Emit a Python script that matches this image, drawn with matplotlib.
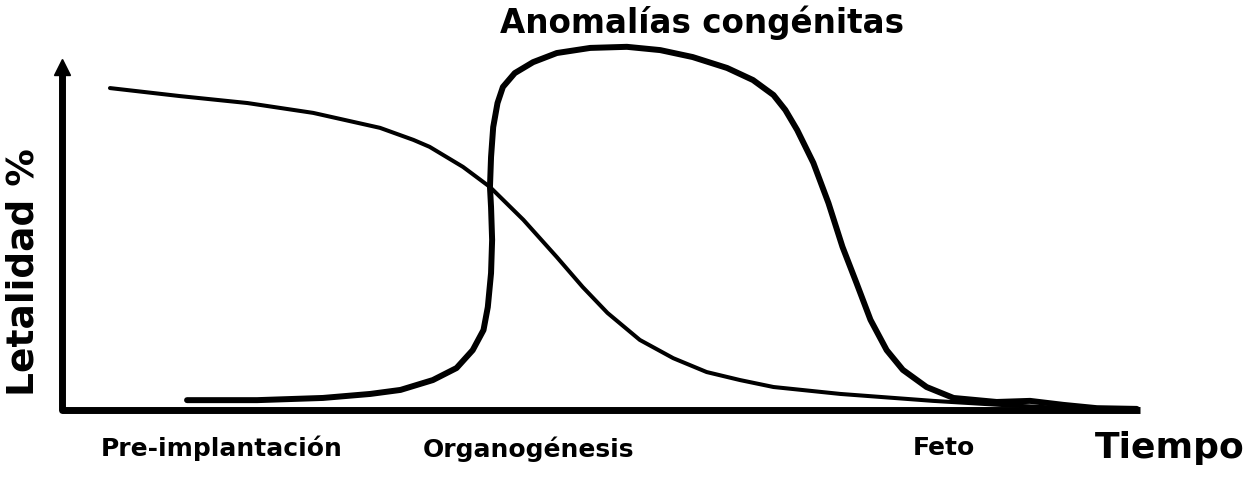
import matplotlib
matplotlib.use("Agg")
import matplotlib.pyplot as plt

# tiempo (0-100) vs letalidad (0-100)
t_letal = [4.45, 10.95, 17.2, 23.3, 29.5, 32.6, 34.1, 37.2, 39.7, 42.8, 45.9, 48.3,
           50.6, 53.6, 56.7, 59.8, 62.9, 66.0, 72.2, 80.8, 87.0, 93.2, 99.7]
y_letal = [88.2, 86.0, 84.1, 81.4, 77.3, 74.0, 72.1, 66.6, 61.1, 52.1, 41.9, 33.7,
           26.6, 19.2, 14.2, 10.4, 8.2, 6.3, 4.4, 2.5, 1.4, 0.5, 0.3]

t_anom = [11.6, 18.1, 24.2, 28.6, 31.4, 34.4, 36.6, 38.1, 39.1, 39.5,
          39.8, 39.9, 39.8, 39.7, 39.8, 40.0, 40.4, 40.9, 42.0, 43.7,
          45.9, 49.0, 52.4, 55.5, 58.5, 61.7, 64.1, 66.0, 67.1, 68.2,
          69.7, 71.1, 72.4, 73.7, 75.0, 76.5, 78.0, 80.2, 82.7, 86.7,
          89.8, 92.9, 96.0, 99.7]
y_anom = [2.7, 2.7, 3.3, 4.4, 5.5, 8.2, 11.5, 16.4, 21.9, 28.2,
          37.5, 46.6, 55.6, 61.1, 69.3, 77.5, 84.1, 88.5, 92.3, 95.3,
          97.8, 99.2, 99.5, 98.6, 96.7, 93.7, 90.4, 86.3, 82.2, 76.7,
          67.7, 56.7, 44.7, 34.8, 24.7, 16.4, 11.0, 6.3, 3.3, 2.2,
          2.5, 1.4, 0.5, 0.3]

etapas = ["Pre-implantación", "Organogénesis", "Feto"]
etapas_x = [222, 529, 944]      # pixel centres
etapas_base = [456, 457, 455]   # pixel baselines

W, H = 1258, 484
fig = plt.figure(figsize=(W / 100, H / 100), dpi=100)
ax = fig.add_axes([62 / W, (H - 410) / H, (1140 - 62) / W, (410 - 45) / H])
ax.set_xlim(0, 100)
ax.set_ylim(0, 100)
ax.axis("off")

# axes drawn by hand (arrow on y)
ax.plot([0, 0, 100], [93, 0, 0], color="black", lw=5, solid_joinstyle="round",
        solid_capstyle="butt", clip_on=False)
ax.plot([0], [94.1], marker="^", ms=11.5, color="black", clip_on=False)

ax.plot(t_letal, y_letal, color="black", lw=2.9, solid_capstyle="round",
        solid_joinstyle="round", clip_on=False)
ax.plot(t_anom, y_anom, color="black", lw=4.3, solid_capstyle="round",
        solid_joinstyle="round", clip_on=False)


def px(x, y):
    return x / W, 1 - y / H


fig.text(*px(702, 33), "Anomalías congénitas", ha="center", va="baseline",
         fontsize=23.5, fontweight="bold")
fig.text(*px(24, 272), "Letalidad %", ha="center", va="center", rotation=90,
         fontsize=27, fontweight="bold")
for lab, x, b in zip(etapas, etapas_x, etapas_base):
    fig.text(*px(x, b), lab, ha="center", va="baseline", fontsize=18,
             fontweight="bold")
fig.text(*px(1170, 458), "Tiempo", ha="center", va="baseline", fontsize=26,
         fontweight="bold")

fig.savefig("out.png", dpi=100, facecolor="white")
